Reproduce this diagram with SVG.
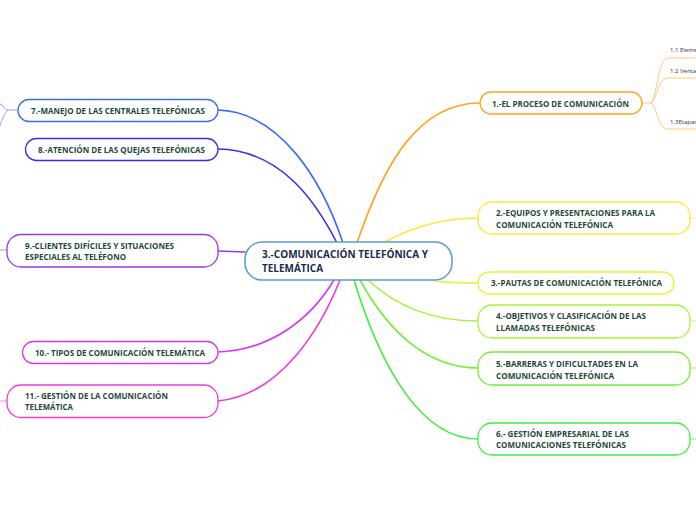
<svg xmlns="http://www.w3.org/2000/svg" width="696" height="520" viewBox="0 0 696 520">
<style>
.n{fill:#fff;stroke-width:1.3}
.t{font-family:"Open Sans","Noto Sans","Liberation Sans",sans-serif;font-weight:bold;font-size:8.5px;fill:#1f4a3a}
.c{font-family:"Open Sans","Noto Sans","Liberation Sans",sans-serif;font-weight:bold;font-size:10.5px;fill:#1c2b4a}
.s{font-family:"Open Sans","Noto Sans","Liberation Sans",sans-serif;font-size:6px;fill:#333}
.l{fill:none;stroke-width:1.6;stroke-linecap:round}
.ls{fill:none;stroke-width:1}
</style>
<rect width="696" height="520" fill="#fff"/>
<g id="connectors">
<path class="l" stroke="#ffa41b" d="M357,243 C385,160 420,103 480,103"/>
<path class="l" stroke="#fde92e" d="M383,243 C410,228 440,218 478,218"/>
<path class="l" stroke="#e3f53a" d="M435,281 C452,283 465,283 478,283"/>
<path class="l" stroke="#a9f23b" d="M368,280 C400,310 440,321 478,321"/>
<path class="l" stroke="#72ee3a" d="M360,280 C390,335 430,368 478,368"/>
<path class="l" stroke="#3ef03e" d="M354,280 C380,365 420,439 478,439"/>
<path class="l" stroke="#3a6df0" d="M218,110 C280,112 322,180 343,243"/>
<path class="l" stroke="#3a2ef0" d="M218,149 C280,150 315,200 337,243"/>
<path class="l" stroke="#9b35f0" d="M218,251 L245,252"/>
<path class="l" stroke="#d23af0" d="M218,352 C270,350 310,320 334,280"/>
<path class="l" stroke="#f03ad6" d="M218,401 C280,395 320,330 340,280"/>
<path class="ls" stroke="#ffc97a" d="M642,103 L650,103 C657,103 657,58 668,58 L696,58"/>
<path class="ls" stroke="#ffc97a" d="M650,103 C657,103 657,78 668,78 L696,78"/>
<path class="ls" stroke="#ffc97a" d="M650,103 C657,103 657,129 668,129 L696,129"/>
<path class="ls" stroke="#fdf07a" d="M690,218 L696,218"/>
<path class="ls" stroke="#c8f57a" d="M690,321 L696,321"/>
<path class="ls" stroke="#a5f27a" d="M690,368 L696,368"/>
<path class="ls" stroke="#80f080" d="M690,439 L696,439"/>
<path class="ls" stroke="#8aa8f5" d="M18,110 L8,110 C4,110 3,104 0,104"/>
<path class="ls" stroke="#8aa8f5" d="M8,110 C5,112 2,119 0,126"/>
<path class="ls" stroke="#c08af5" d="M0,250 L7,250"/>
<path class="ls" stroke="#f58ae6" d="M0,401 L7,401"/>
</g>
<g id="central">
<rect x="245" y="242" width="207" height="38" rx="17" fill="#fff" stroke="#5b9bd5" stroke-width="1.5"/>
<text class="c" x="262" y="258" textLength="166" lengthAdjust="spacingAndGlyphs">3.-COMUNICACIÓN TELEFÓNICA Y</text>
<text class="c" x="262" y="272" textLength="61" lengthAdjust="spacingAndGlyphs">TELEMÁTICA</text>
</g>
<g id="n1">
<rect class="n" x="480" y="92" width="162" height="22" rx="11" stroke="#ffa41b"/>
<text class="t" x="492" y="106.5" textLength="137" lengthAdjust="spacingAndGlyphs">1.-EL PROCESO DE COMUNICACIÓN</text>
</g>
<g id="n1-1"><text class="s" x="670" y="52">1.1 Eleme</text></g>
<g id="n1-2"><text class="s" x="670" y="72.5">1.2 Venta</text></g>
<g id="n1-3"><text class="s" x="670" y="124">1.3Etapas</text></g>
<g id="n2">
<rect class="n" x="478" y="202" width="212" height="32" rx="14" stroke="#fde92e"/>
<text class="t" x="496" y="216" textLength="159" lengthAdjust="spacingAndGlyphs">2.-EQUIPOS Y PRESENTACIONES PARA LA</text>
<text class="t" x="496" y="227.5" textLength="117" lengthAdjust="spacingAndGlyphs">COMUNICACIÓN TELEFÓNICA</text>
</g>
<g id="n3">
<rect class="n" x="478" y="272" width="196" height="22" rx="11" stroke="#e3f53a"/>
<text class="t" x="491" y="286" textLength="171" lengthAdjust="spacingAndGlyphs">3.-PAUTAS DE COMUNICACIÓN TELEFÓNICA</text>
</g>
<g id="n4">
<rect class="n" x="478" y="305" width="212" height="33" rx="14" stroke="#a9f23b"/>
<text class="t" x="496" y="319" textLength="150" lengthAdjust="spacingAndGlyphs">4.-OBJETIVOS Y CLASIFICACIÓN DE LAS</text>
<text class="t" x="496" y="330.5" textLength="99" lengthAdjust="spacingAndGlyphs">LLAMADAS TELEFÓNICAS</text>
</g>
<g id="n5">
<rect class="n" x="478" y="352" width="212" height="33" rx="14" stroke="#72ee3a"/>
<text class="t" x="496" y="367" textLength="142" lengthAdjust="spacingAndGlyphs">5.-BARRERAS Y DIFICULTADES EN LA</text>
<text class="t" x="496" y="378.5" textLength="118" lengthAdjust="spacingAndGlyphs">COMUNICACIÓN TELEFÓNICA</text>
</g>
<g id="n6">
<rect class="n" x="478" y="423" width="212" height="32" rx="14" stroke="#3ef03e"/>
<text class="t" x="496" y="436.5" textLength="133" lengthAdjust="spacingAndGlyphs">6.- GESTIÓN EMPRESARIAL DE LAS</text>
<text class="t" x="496" y="448" textLength="130" lengthAdjust="spacingAndGlyphs">COMUNICACIONES TELEFÓNICAS</text>
</g>
<g id="n7">
<rect class="n" x="18" y="99.5" width="200" height="22" rx="11" stroke="#3a6df0"/>
<text class="t" x="31" y="113.5" textLength="174" lengthAdjust="spacingAndGlyphs">7.-MANEJO DE LAS CENTRALES TELEFÓNICAS</text>
</g>
<g id="n8">
<rect class="n" x="25.5" y="138.5" width="192.5" height="22" rx="11" stroke="#3a2ef0"/>
<text class="t" x="38" y="152.5" textLength="167" lengthAdjust="spacingAndGlyphs">8.-ATENCIÓN DE LAS QUEJAS TELEFÓNICAS</text>
</g>
<g id="n9">
<rect class="n" x="7" y="234.5" width="211" height="32.5" rx="14" stroke="#9b35f0"/>
<text class="t" x="25" y="248.5" textLength="149" lengthAdjust="spacingAndGlyphs">9.-CLIENTES DIFÍCILES Y SITUACIONES</text>
<text class="t" x="25" y="259.5" textLength="101" lengthAdjust="spacingAndGlyphs">ESPECIALES AL TELÉFONO</text>
</g>
<g id="n10">
<rect class="n" x="22.5" y="341.5" width="195.5" height="22" rx="11" stroke="#d23af0"/>
<text class="t" x="35" y="355.5" textLength="170" lengthAdjust="spacingAndGlyphs">10.- TIPOS DE COMUNICACIÓN TELEMÁTICA</text>
</g>
<g id="n11">
<rect class="n" x="7" y="385" width="211" height="32.5" rx="14" stroke="#f03ad6"/>
<text class="t" x="25" y="399" textLength="143" lengthAdjust="spacingAndGlyphs">11.- GESTIÓN DE LA COMUNICACIÓN</text>
<text class="t" x="25" y="410" textLength="48" lengthAdjust="spacingAndGlyphs">TELEMÁTICA</text>
</g>
</svg>
